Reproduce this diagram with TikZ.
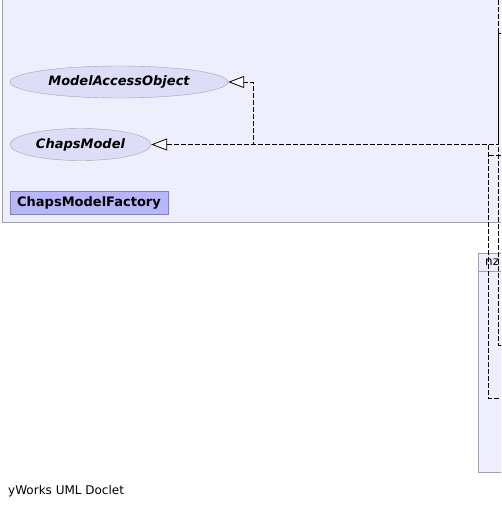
\documentclass[tikz,border=0pt]{standalone}
\usepackage{fontspec}
\setmainfont{DejaVu Sans}
\usetikzlibrary{
  shapes.geometric,
  arrows.meta,
  positioning
}
\definecolor{pkgfill}{RGB}{238, 238, 252}
\definecolor{pkgline}{RGB}{160, 160, 176}
\definecolor{ifacefill}{RGB}{221, 221, 248}
\definecolor{ifaceline}{RGB}{160, 160, 184}
\definecolor{classfill}{RGB}{182, 182, 248}
\definecolor{classline}{RGB}{128, 128, 192}
\tikzset{
packagebox/.style={
  draw=pkgline,
  fill=pkgfill,
  line width=0.8pt
},
ifacenode/.style={
  ellipse,
  draw=ifaceline,
  fill=ifacefill,
  inner sep=0pt,
  minimum height=32pt,
  font=\fontsize{13}{15}\selectfont\bfseries\itshape
},
classnode/.style={
  rectangle,
  draw=classline,
  fill=classfill,
  inner sep=0pt,
  minimum height=23pt,
  minimum width=158pt,
  font=\fontsize{13}{15}\selectfont\bfseries
},
realizes/.style={
  -{Triangle[length=16pt,width=12pt,fill=white]},
  line width=0.8pt,
  dash pattern=on 5pt off 2pt
},
dashline/.style={
  line width=0.8pt,
  dash pattern=on 5pt off 2pt
}
}

\begin{document}
\begin{tikzpicture}[
    x=1pt, y=-1pt,
    % Estilos
    pkgtitle/.style={
        font=\fontsize{12}{14}\selectfont,
        anchor=west,
        inner sep=0pt
    },
    credit/.style={
        font=\fontsize{12}{14}\selectfont,
        anchor=west,
        inner sep=0pt
    },
]
\clip (0,0) rectangle (501,509);
\fill[white] (0,0) rectangle (501,509);

% ============================================================================
% PACOTE PRINCIPAL
% ============================================================================
\draw[packagebox] (2.5,-20) rectangle (560,222.5);

\node[ifacenode, minimum width=218pt] (mao) at (119,82) {ModelAccessObject};
\node[ifacenode, minimum width=141pt] (chaps) at (80.5,144.5) {ChapsModel};
\node[classnode] (factory) at (89,202.5) {ChapsModelFactory};

% ============================================================================
% PACOTE NZ
% ============================================================================
\draw[packagebox] (478.5,253.5) rectangle (560,472.5);
\draw[pkgline, line width=0.8pt] (478.5,271.5) -- (560,271.5);
\node[pkgtitle] (nzpkg) at (485,262.5) {nz};

% ============================================================================
% LIGACOES
% ============================================================================
\coordinate (inA) at (501,33);
\coordinate (inB) at (501,345);
\coordinate (inC) at (501,398);
\coordinate (inD) at (501,155);
\coordinate (topA) at (498,0);

\draw[realizes] (inA) -- (498,33) -- (498,144.5) -- (253,144.5) -- (253,82) -- (mao.east);
\draw[dashline] (topA) -- (498,345) -- (inB);
\draw[realizes, dash phase=5pt] (inC) -- (488,398) -- (488,144.5) -- (chaps.east);
\draw[dashline] (inD) -- (488,155);

% ============================================================================
% RODAPE
% ============================================================================
\node[credit] (doclet) at (8,491.5) {yWorks UML Doclet};

\end{tikzpicture}
\end{document}
